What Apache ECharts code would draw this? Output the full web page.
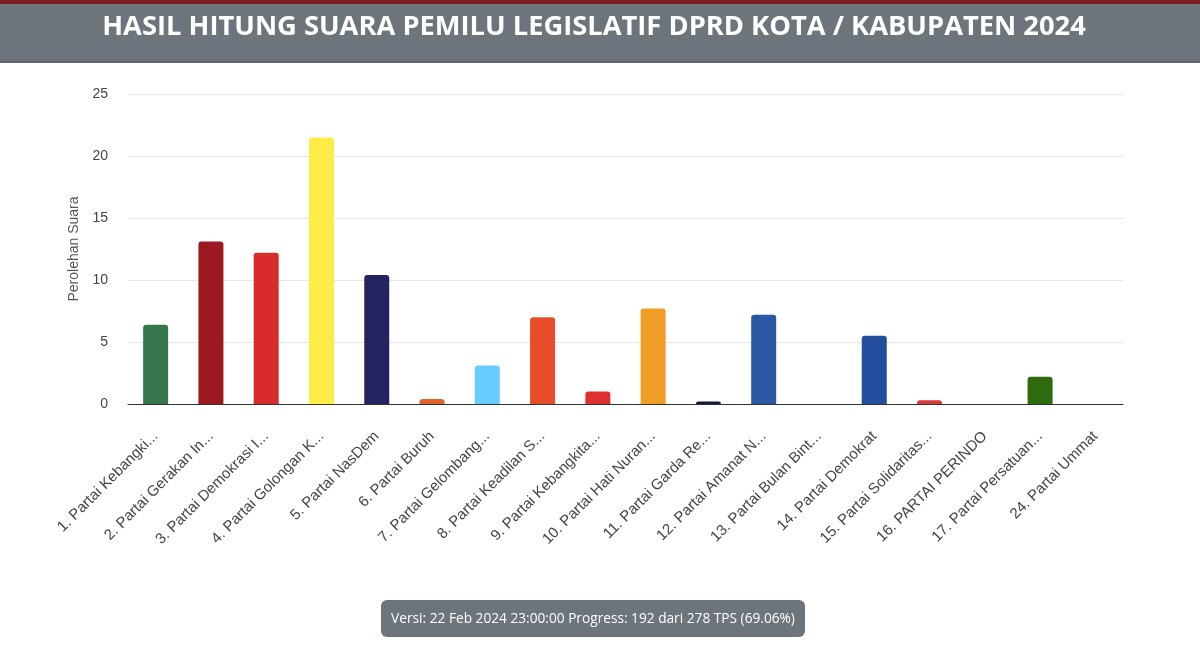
<!DOCTYPE html>
<html><head><meta charset="utf-8">
<script src="https://cdn.jsdelivr.net/npm/echarts@6/dist/echarts.min.js"></script>
<style>html,body{margin:0;padding:0;background:#fff;}#c{width:1200px;height:655px;}</style>
</head><body><div id="c"></div>
<script>
const titleText = 'HASIL HITUNG SUARA PEMILU LEGISLATIF DPRD KOTA / KABUPATEN 2024';
const footerText = 'Versi: 22 Feb 2024 23:00:00 Progress: 192 dari 278 TPS (69.06%)';
const yAxisName = 'Perolehan Suara';
const categories = ['1. Partai Kebangki...','2. Partai Gerakan In...','3. Partai Demokrasi I...','4. Partai Golongan K...','5. Partai NasDem','6. Partai Buruh','7. Partai Gelombang...','8. Partai Keadilan S...','9. Partai Kebangkita...','10. Partai Hati Nuran...','11. Partai Garda Re...','12. Partai Amanat N...','13. Partai Bulan Bint...','14. Partai Demokrat','15. Partai Solidaritas...','16. PARTAI PERINDO','17. Partai Persatuan...','24. Partai Ummat'];
const values = [6.4,13.1,12.2,21.5,10.4,0.4,3.1,7.0,1.0,7.7,0.2,7.2,0,5.5,0.3,0,2.2,0];
const colors = ['#34784c','#9a1a1f','#d92b2b','#ffec47','#24225f','#e0632c','#66ccff','#e84d2a','#e02f2f','#f09d25','#0e1b36','#2b58a3','#1f8a4c','#234e9e','#d63a3a','#1b3c8c','#2e6a0e','#1d6b3a'];

const chart = echarts.init(document.getElementById('c'));
chart.setOption({
  animation:false,
  grid:{left:128,right:77,top:94,bottom:251,containLabel:false},
  graphic:[
    {type:'rect',shape:{x:0,y:0,width:1200,height:63},style:{fill:'#6c747c'},z:0},
    {type:'rect',shape:{x:0,y:0,width:1200,height:4},style:{fill:'#7e1d20'},z:1},
    {type:'rect',shape:{x:0,y:61,width:1200,height:2},style:{fill:'#5e656c'},z:1},
    {type:'text',x:594,y:14,style:{text:titleText,fill:'#ffffff',font:'bold 27.3px "Open Sans"',textAlign:'center',textVerticalAlign:'top'},z:2},
    {type:'rect',shape:{x:381,y:600,width:424,height:37,r:6},style:{fill:'#6c747c'},z:1},
    {type:'text',x:593,y:612,style:{text:footerText,fill:'#ffffff',font:'13.7px "Open Sans"',textAlign:'center',textVerticalAlign:'top'},z:2}
  ],
  xAxis:{type:'category',data:categories,
    axisLine:{lineStyle:{color:'#333',width:1}},axisTick:{show:false},
    axisLabel:{rotate:45,interval:0,color:'#444',fontSize:15,fontFamily:'Liberation Sans, Arial',margin:30}},
  yAxis:{type:'value',min:0,max:25,interval:5,
    name:yAxisName,nameLocation:'middle',nameGap:46,nameRotate:90,
    nameTextStyle:{color:'#555',fontSize:14,fontFamily:'Liberation Sans, Arial'},
    axisLine:{show:false},axisTick:{show:false},
    axisLabel:{color:'#444',fontSize:14,fontFamily:'Liberation Sans, Arial',margin:20},
    splitLine:{lineStyle:{color:'#e6e6e6'}}},
  series:[{type:'bar',barWidth:25,
    data:values.map((v,i)=>({value:v,itemStyle:{color:colors[i],borderRadius:[3,3,0,0]}}))}]
});
</script></body></html>
